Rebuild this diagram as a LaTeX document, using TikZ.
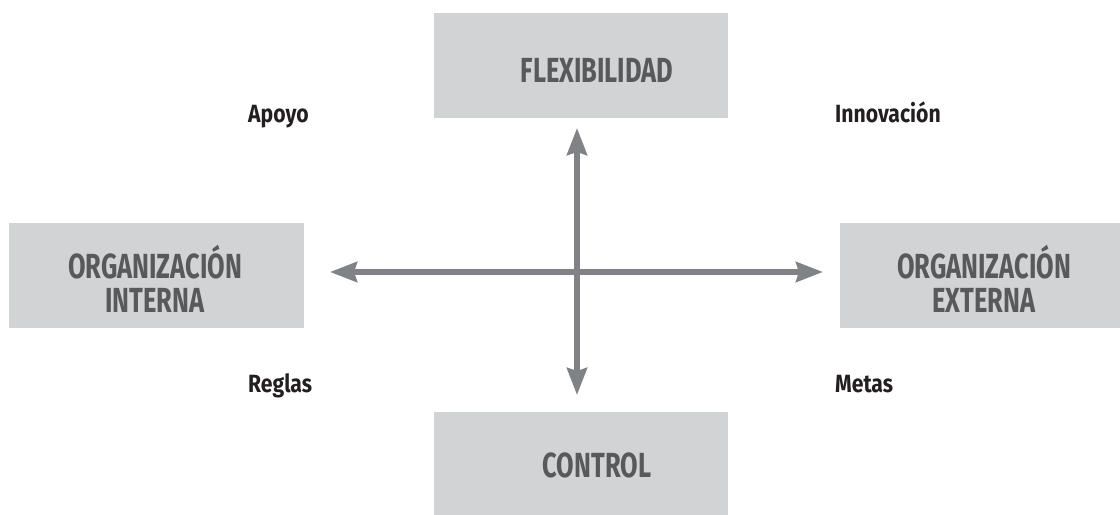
\documentclass[tikz,border=0pt]{standalone}
\usepackage{fontspec}
\setmainfont{Fira Sans}
\newfontfamily\boxfont{Fira Sans}[FakeStretch=0.73]
\newfontfamily\cornerfont{Fira Sans}[FakeStretch=0.85]
\usepackage{tikz}
\usetikzlibrary{arrows.meta}

\definecolor{boxgray}{HTML}{D1D3D4}
\definecolor{boxtext}{HTML}{58595B}
\definecolor{axisgray}{HTML}{808285}
\definecolor{labelblack}{HTML}{231F20}

\begin{document}
\begin{tikzpicture}[>={Stealth[length=27bp,width=20bp,inset=3bp]},line join=bevel,
  quadbox/.style={fill=boxgray,draw=none,inner sep=0pt},
  boxlabel/.style={text=boxtext,font=\boxfont\fontsize{35}{34}\selectfont\bfseries,align=center,inner sep=0pt},
  cornerlabel/.style={text=labelblack,font=\cornerfont\fontsize{25}{28}\selectfont\bfseries,anchor=base west,inner sep=0pt},
  axis/.style={draw=axisgray,line width=5.5bp,<->}]
\useasboundingbox (0bp,0bp) rectangle (1120bp,515bp);
%%
\node (box_flex) at (581bp,449.5bp) [quadbox,minimum width=294bp,minimum height=105bp] {};
  \node (box_ctrl) at (581bp,51.5bp) [quadbox,minimum width=294bp,minimum height=103bp] {};
  \node (box_int) at (156.5bp,239.5bp) [quadbox,minimum width=295bp,minimum height=105bp] {};
  \node (box_ext) at (980bp,239.5bp) [quadbox,minimum width=280bp,minimum height=105bp] {};
  \node (txt_flex) at (597bp,445bp) [boxlabel] {FLEXIBILIDAD};
  \node (txt_ctrl) at (597bp,50bp) [boxlabel] {CONTROL};
  \node (txt_int) at (155bp,236bp) [boxlabel] {ORGANIZACIÓN\\INTERNA};
  \node (txt_ext) at (984bp,236bp) [boxlabel] {ORGANIZACIÓN\\EXTERNA};
  \node (lab_apoyo) at (248bp,392bp) [cornerlabel] {Apoyo};
  \node (lab_innov) at (835bp,392bp) [cornerlabel] {Innovación};
  \node (lab_reglas) at (248bp,122bp) [cornerlabel] {Reglas};
  \node (lab_metas) at (835bp,122bp) [cornerlabel] {Metas};
  \coordinate (tip_n) at (577bp,387bp);
  \coordinate (tip_s) at (577bp,120bp);
  \coordinate (tip_w) at (330bp,243bp);
  \coordinate (tip_e) at (823bp,243bp);
  \draw [axis] (tip_w) -- (tip_e);
  \draw [axis] (tip_s) -- (tip_n);
%
\end{tikzpicture}
\end{document}
